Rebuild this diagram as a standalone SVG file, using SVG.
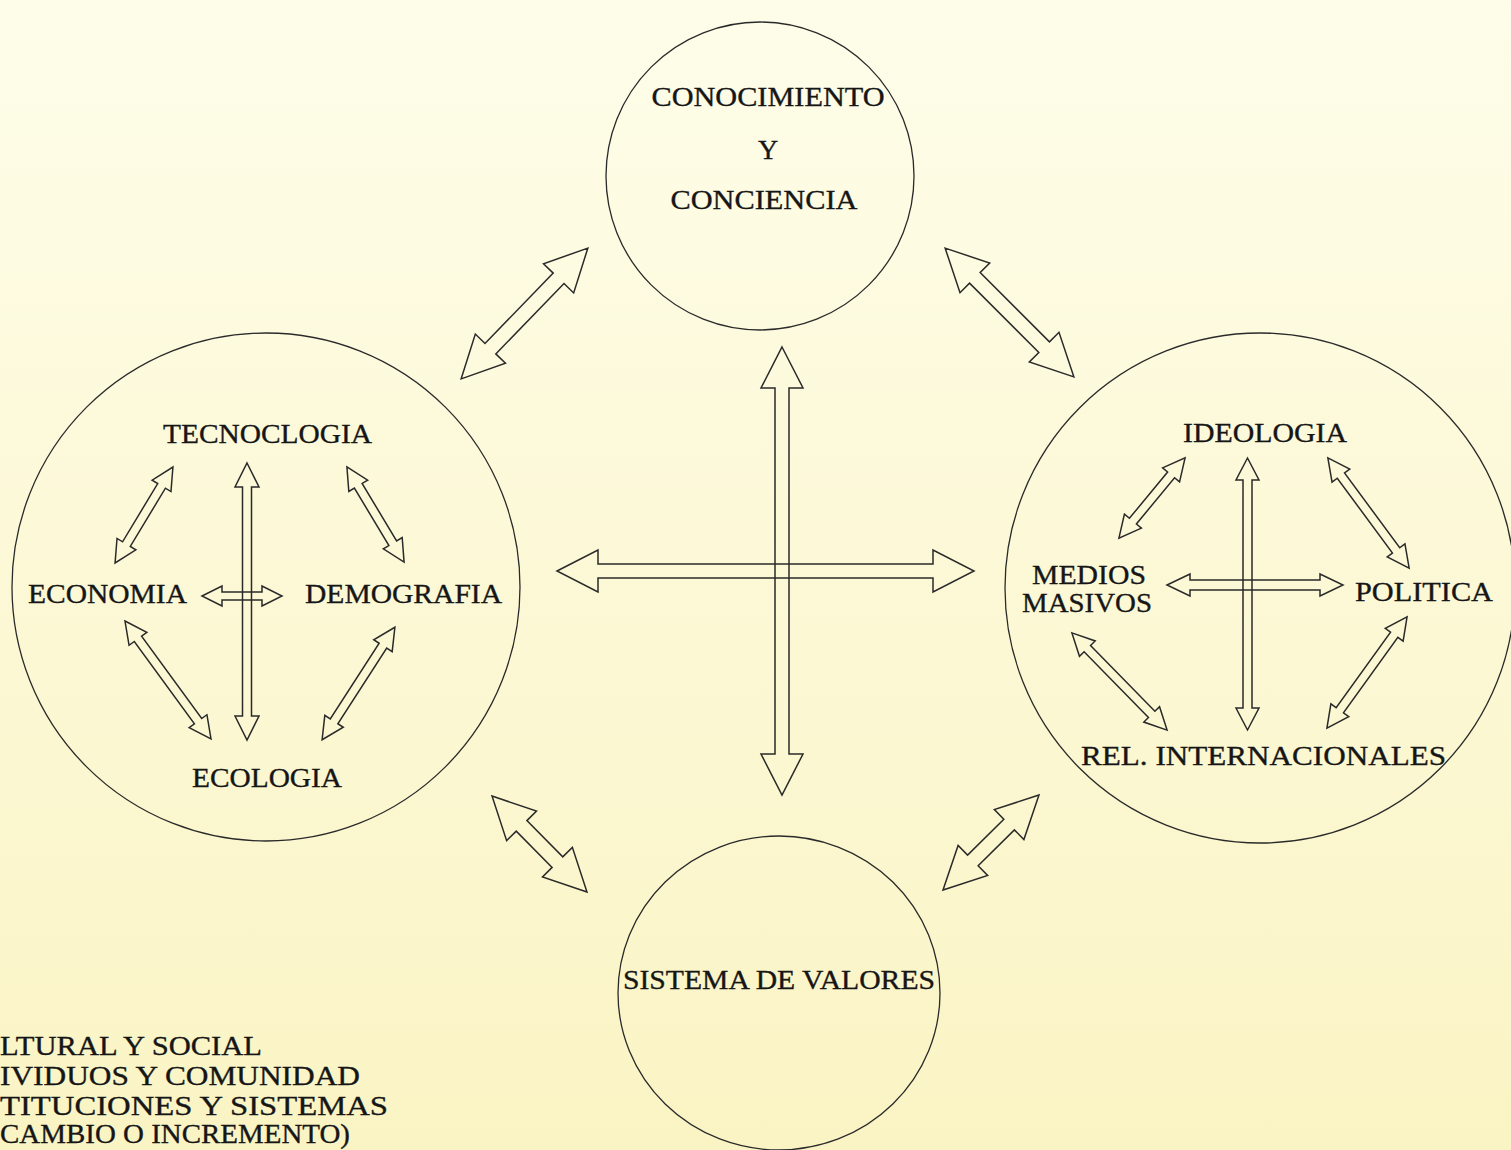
<svg xmlns="http://www.w3.org/2000/svg" width="1511" height="1150" viewBox="0 0 1511 1150">
<defs>
<linearGradient id="bg" x1="0" y1="0" x2="0" y2="1">
<stop offset="0" stop-color="#fefde9"/>
<stop offset="1" stop-color="#faf4c4"/>
</linearGradient>
<style>
.c{fill:none;stroke:#2a2a2a;stroke-width:1.3}
.a{fill:none;stroke:#2a2a2a;stroke-width:1.5;stroke-linejoin:miter}
.t{font-family:"Liberation Serif","DejaVu Serif",serif;font-size:28px;fill:#161616;stroke:#161616;stroke-width:0.35;text-anchor:middle}
.l{font-family:"Liberation Serif","DejaVu Serif",serif;font-size:28px;fill:#161616;stroke:#161616;stroke-width:0.35}
</style>
</defs>
<rect width="1511" height="1150" fill="url(#bg)"/>

<g id="node-conocimiento">
<circle class="c" cx="760" cy="176" r="154"/>
<text class="t" x="768" y="106" textLength="233" lengthAdjust="spacingAndGlyphs">CONOCIMIENTO</text>
<text class="t" x="768" y="159">Y</text>
<text class="t" x="764" y="209" textLength="187" lengthAdjust="spacingAndGlyphs">CONCIENCIA</text>
</g>

<g id="node-izquierda">
<circle class="c" cx="266" cy="587" r="254"/>
<text class="t" x="267.5" y="443" textLength="209" lengthAdjust="spacingAndGlyphs">TECNOCLOGIA</text>
<text class="t" x="107.5" y="603" textLength="159" lengthAdjust="spacingAndGlyphs">ECONOMIA</text>
<text class="t" x="403.5" y="603" textLength="197" lengthAdjust="spacingAndGlyphs">DEMOGRAFIA</text>
<text class="t" x="267" y="787" textLength="150" lengthAdjust="spacingAndGlyphs">ECOLOGIA</text>
</g>

<g id="node-derecha">
<circle class="c" cx="1260" cy="588" r="255"/>
<text class="t" x="1265" y="442" textLength="164" lengthAdjust="spacingAndGlyphs">IDEOLOGIA</text>
<text class="t" x="1089" y="584" textLength="114" lengthAdjust="spacingAndGlyphs">MEDIOS</text>
<text class="t" x="1087" y="612" textLength="130" lengthAdjust="spacingAndGlyphs">MASIVOS</text>
<text class="t" x="1424" y="601" textLength="138" lengthAdjust="spacingAndGlyphs">POLITICA</text>
<text class="t" x="1263.5" y="765" textLength="365" lengthAdjust="spacingAndGlyphs">REL. INTERNACIONALES</text>
</g>

<g id="node-valores">
<ellipse class="c" cx="779" cy="993" rx="161" ry="157"/>
<text class="t" x="779" y="989" textLength="312" lengthAdjust="spacingAndGlyphs">SISTEMA DE VALORES</text>
</g>

<g id="leyenda">
<text class="l" x="0" y="1055" textLength="262" lengthAdjust="spacingAndGlyphs">LTURAL Y SOCIAL</text>
<text class="l" x="0" y="1085" textLength="360" lengthAdjust="spacingAndGlyphs">IVIDUOS Y COMUNIDAD</text>
<text class="l" x="0" y="1115" textLength="388" lengthAdjust="spacingAndGlyphs">TITUCIONES Y SISTEMAS</text>
<text class="l" x="0" y="1143" textLength="350" lengthAdjust="spacingAndGlyphs">CAMBIO O INCREMENTO)</text>
</g>

<g id="connectors">
<!-- central cross -->
<polygon class="a" points="782,347 803,388 789,388 789,754 803,754 782,795 761,754 775,754 775,388 761,388"/>
<polygon class="a" points="557,571 598,550 598,564 933,564 933,550 974,571 933,592 933,578 598,578 598,592"/>
<!-- outer diagonals -->
<polygon class="a" transform="translate(524.5 313.5) rotate(-45.9)" points="-91,0 -49,-21 -49,-7.5 49,-7.5 49,-21 91,0 49,21 49,7.5 -49,7.5 -49,21"/>
<polygon class="a" transform="translate(1009.5 312.5) rotate(45)" points="-91,0 -49,-21 -49,-7.5 49,-7.5 49,-21 91,0 49,21 49,7.5 -49,7.5 -49,21"/>
<polygon class="a" transform="translate(539.5 844) rotate(45.3)" points="-67.5,0 -25.5,-21 -25.5,-7.5 25.5,-7.5 25.5,-21 67.5,0 25.5,21 25.5,7.5 -25.5,7.5 -25.5,21"/>
<polygon class="a" transform="translate(991 842.5) rotate(-44.7)" points="-67.5,0 -25.5,-21 -25.5,-7.5 25.5,-7.5 25.5,-21 67.5,0 25.5,21 25.5,7.5 -25.5,7.5 -25.5,21"/>
<!-- left inner -->
<polygon class="a" points="247,463 259,487 251.5,487 251.5,716 259,716 247,740 235,716 242.5,716 242.5,487 235,487"/>
<polygon class="a" points="202,596 222,586 222,592 262,592 262,586 282,596 262,606 262,600 222,600 222,606"/>
<polygon class="a" transform="translate(144 515) rotate(-58.9)" points="-56,0 -34,-11 -34,-4.5 34,-4.5 34,-11 56,0 34,11 34,4.5 -34,4.5 -34,11"/>
<polygon class="a" transform="translate(375.5 514.5) rotate(59)" points="-55.5,0 -33.5,-11 -33.5,-4.5 33.5,-4.5 33.5,-11 55.5,0 33.5,11 33.5,4.5 -33.5,4.5 -33.5,11"/>
<polygon class="a" transform="translate(168 680) rotate(53.9)" points="-73,0 -51,-11 -51,-4.5 51,-4.5 51,-11 73,0 51,11 51,4.5 -51,4.5 -51,11"/>
<polygon class="a" transform="translate(358.5 683.5) rotate(-57.1)" points="-67,0 -45,-11 -45,-4.5 45,-4.5 45,-11 67,0 45,11 45,4.5 -45,4.5 -45,11"/>
<!-- right inner -->
<polygon class="a" points="1247.5,458 1259,480 1252,480 1252,708 1259,708 1247.5,730 1236,708 1243,708 1243,480 1236,480"/>
<polygon class="a" points="1167,585 1190,574 1190,580 1320,580 1320,574 1343,585 1320,596 1320,590 1190,590 1190,596"/>
<polygon class="a" transform="translate(1152 498) rotate(-50.5)" points="-52,0 -30,-11 -30,-4.5 30,-4.5 30,-11 52,0 30,11 30,4.5 -30,4.5 -30,11"/>
<polygon class="a" transform="translate(1368.5 513) rotate(53.6)" points="-68.5,0 -46.5,-11 -46.5,-4.5 46.5,-4.5 46.5,-11 68.5,0 46.5,11 46.5,4.5 -46.5,4.5 -46.5,11"/>
<polygon class="a" transform="translate(1119.5 681.5) rotate(45.6)" points="-68,0 -46,-11 -46,-4.5 46,-4.5 46,-11 68,0 46,11 46,4.5 -46,4.5 -46,11"/>
<polygon class="a" transform="translate(1367 672.5) rotate(-54.2)" points="-68.5,0 -46.5,-11 -46.5,-4.5 46.5,-4.5 46.5,-11 68.5,0 46.5,11 46.5,4.5 -46.5,4.5 -46.5,11"/>
</g>
</svg>
